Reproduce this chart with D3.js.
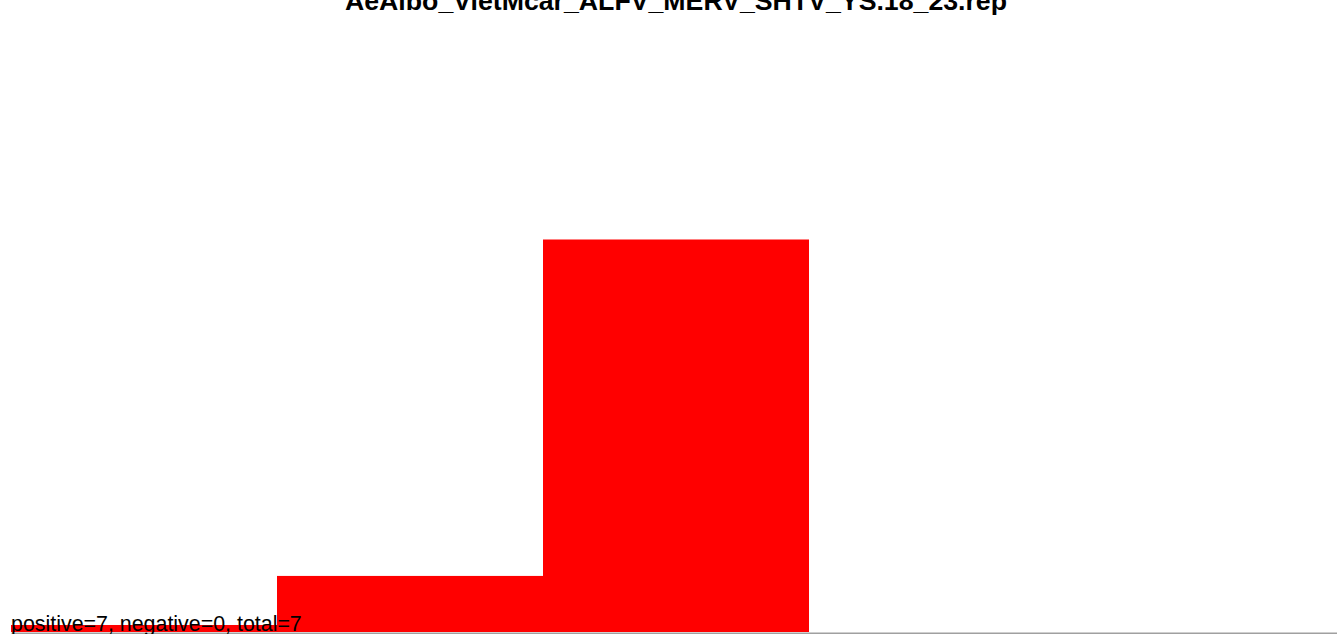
<!DOCTYPE html>
<html>
<head>
<meta charset="utf-8">
<script src="https://cdn.jsdelivr.net/npm/d3@7"></script>
<style>
  html, body { margin: 0; padding: 0; background: #fff; overflow: hidden; }
  svg { display: block; }
</style>
</head>
<body>
<script>
// Histogram of replicate bins
const title = "AeAlbo_VietMcar_ALFV_MERV_SHTV_YS.18_23.rep";
const bins = ["b1", "b2", "b3", "b4", "b5"];
const counts = [1, 8, 56, 0, 0];
const summary = { positive: 7, negative: 0, total: 7 };

const W = 1352, H = 634;
const left = 11, right = 1341, baseline = 632;

const svg = d3.select("body").append("svg")
  .attr("width", W).attr("height", H);

const x = d3.scaleBand().domain(bins).range([left, right]).padding(0);
const y = d3.scaleLinear().domain([0, 56]).range([baseline, 239.5]);

svg.append("g")
  .selectAll("rect")
  .data(bins.map((b, i) => ({ bin: b, value: counts[i] })))
  .join("rect")
  .attr("x", d => x(d.bin))
  .attr("width", x.bandwidth())
  .attr("y", d => y(d.value))
  .attr("height", d => y(0) - y(d.value))
  .attr("fill", "#ff0000");

// baseline axis
const axis = svg.append("g")
  .attr("transform", `translate(0,${baseline + 1})`)
  .call(d3.axisBottom(x).tickSize(0).tickFormat(""));
axis.select(".domain").attr("stroke", "#a0a0a0").attr("stroke-width", 2);

svg.append("text")
  .attr("x", (left + right) / 2)
  .attr("y", 9.5)
  .attr("text-anchor", "middle")
  .attr("font-family", "Liberation Sans, Arial, sans-serif")
  .attr("font-weight", "bold")
  .attr("font-size", 26.7)
  .attr("fill", "#000")
  .text(title);

svg.append("text")
  .attr("x", left)
  .attr("y", 631)
  .attr("font-family", "Liberation Sans, Arial, sans-serif")
  .attr("font-size", 21.4)
  .attr("fill", "#000")
  .text(`positive=${summary.positive}, negative=${summary.negative}, total=${summary.total}`);
</script>
</body>
</html>
